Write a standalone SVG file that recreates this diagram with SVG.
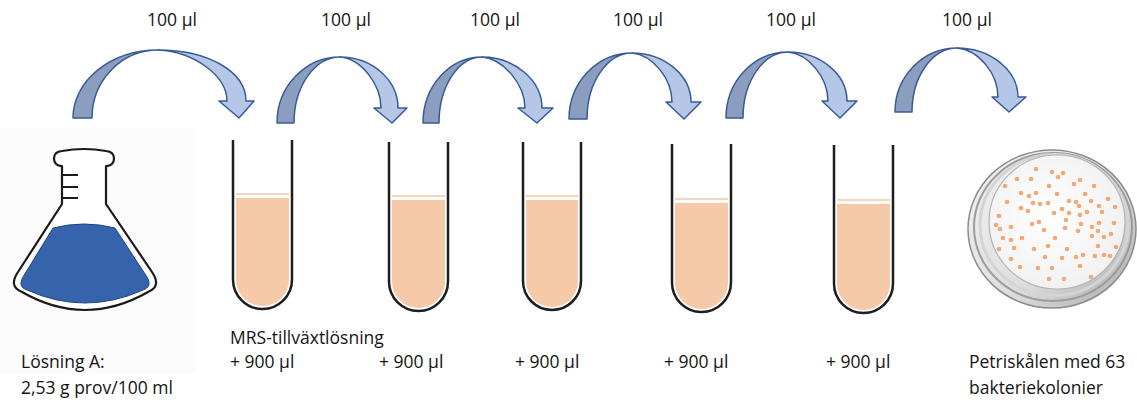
<svg xmlns="http://www.w3.org/2000/svg" width="1137" height="403" viewBox="0 0 1137 403">
  <style>
    .lbl { font-family: "Open Sans", "Liberation Sans", sans-serif; font-size: 17.5px; fill: #141414; }
    .arrow-back { fill: #8c9ec0; stroke: #3a5a96; stroke-width: 1.5; stroke-linejoin: round; }
    .arrow-front { fill: #b4c7e7; stroke: #3a5a96; stroke-width: 1.5; stroke-linejoin: round; }
    .tube { fill: none; stroke: #1e1e1e; stroke-width: 2.5; }
    .liquid { fill: #f6c9a8; }
    .meniscus { stroke: #f6c9a8; stroke-width: 1.6; }
    .colony { fill: #f5a877; }
    .flask { fill: #ffffff; stroke: #1a1a1a; stroke-width: 2.2; stroke-linejoin: round; }
    .mark { stroke: #1a1a1a; stroke-width: 2; }
  </style>
  <defs>
    <linearGradient id="rimGrad" x1="0" y1="0" x2="1" y2="1">
      <stop offset="0" stop-color="#f4f4f4"/>
      <stop offset="0.6" stop-color="#dcdcdc"/>
      <stop offset="1" stop-color="#a8a8a8"/>
    </linearGradient>
    <radialGradient id="agarGrad" cx="0.45" cy="0.45" r="0.6">
      <stop offset="0" stop-color="#ffffff"/>
      <stop offset="1" stop-color="#f0f0f0"/>
    </radialGradient>
  </defs>

  <rect width="1137" height="403" fill="#ffffff"/>
  <!-- light backdrop behind the flask picture -->
  <rect x="0" y="128" width="196" height="245" fill="#fcfcfc"/>

  <!-- transfer arrows -->
  <g id="connectors">
    <!-- flask -> tube 1 -->
    <path class="arrow-back" d="M73 118 A85 68 0 0 1 158 50 A66 68 0 0 0 92 118 Z"/>
    <path class="arrow-front" d="M158 50 C207 50 246 71 246 101 L254 101 L239 118 L219 101 L227 101 C227 77 196 52 158 50 Z"/>
    <!-- tube 1 -> tube 2 -->
    <path class="arrow-back" d="M277 123 A63 66 0 0 1 340 57 A46 66 0 0 0 294 123 Z"/>
    <path class="arrow-front" d="M340 57 C372 57 398 80 398 108 L407 108 L392 123 L374 108 L381 108 C381 85 362 59 340 57 Z"/>
    <!-- tube 2 -> tube 3 -->
    <path class="arrow-back" d="M423 123 A59 66 0 0 1 482 57 A43 66 0 0 0 439 123 Z"/>
    <path class="arrow-front" d="M482 57 C514 57 542 80 542 108 L553 108 L537 123 L518 108 L525 108 C525 85 504 59 482 57 Z"/>
    <!-- tube 3 -> tube 4 -->
    <path class="arrow-back" d="M569 119 A63 66 0 0 1 632 53 A45 66 0 0 0 587 119 Z"/>
    <path class="arrow-front" d="M632 53 C664 53 691 75 691 102 L701 102 L684 119 L666 102 L672 102 C672 79 653 55 632 53 Z"/>
    <!-- tube 4 -> tube 5 -->
    <path class="arrow-back" d="M726 118 A62 66 0 0 1 788 52 A45 66 0 0 0 743 118 Z"/>
    <path class="arrow-front" d="M788 52 C820 52 847 74 847 101 L857 101 L840 118 L822 101 L828 101 C828 78 809 54 788 52 Z"/>
    <!-- tube 5 -> petri dish -->
    <path class="arrow-back" d="M895 112 A62 64 0 0 1 957 48 A45 64 0 0 0 912 112 Z"/>
    <path class="arrow-front" d="M957 48 C990 48 1018 70 1018 97 L1026 97 L1009 112 L992 97 L998 97 C998 74 979 50 957 48 Z"/>

    <text class="lbl" x="172" y="26" text-anchor="middle">100 µl</text>
    <text class="lbl" x="346" y="26" text-anchor="middle">100 µl</text>
    <text class="lbl" x="495" y="26" text-anchor="middle">100 µl</text>
    <text class="lbl" x="638" y="26" text-anchor="middle">100 µl</text>
    <text class="lbl" x="791" y="26" text-anchor="middle">100 µl</text>
    <text class="lbl" x="967" y="26" text-anchor="middle">100 µl</text>
  </g>

  <!-- Erlenmeyer flask with solution A -->
  <g id="flask">
    <path class="flask" d="M62 204 L62 166 C56 166 54 162 54 158.5 C54 154 57 151.5 62 151 Q84 147 106 151 C111 151.5 114 154 114 158.5 C114 162 112 166 106 166 L106 204 L152 272 C158 281 158 288 148 292 Q85 328 22 292 C12 288 12 281 18 272 Z"/>
    <path d="M53 228 Q84 220 115 228 L147 277 C151 284 149 288 143 290 Q85 316 27 290 C21 288 19 284 23 277 Z" fill="#3564ad" stroke="#22457f" stroke-width="1"/>
    <line class="mark" x1="62" y1="175" x2="78" y2="175"/>
    <line class="mark" x1="62" y1="187" x2="78" y2="187"/>
    <line class="mark" x1="62" y1="198" x2="78" y2="198"/>
    <text class="lbl" x="21" y="368">Lösning A:</text>
    <text class="lbl" x="21" y="394">2,53 g prov/100 ml</text>
  </g>

  <!-- dilution tubes -->
  <g id="tube1">
    <path class="liquid" d="M236 198 L236 279.5 A26.5 26.5 0 0 0 289 279.5 L289 198 Z"/>
    <line class="meniscus" x1="236" y1="194" x2="289" y2="194"/>
    <path class="tube" d="M233 140 L233 279.5 A29.5 29.5 0 0 0 292 279.5 L292 140"/>
    <text class="lbl" x="230" y="344">MRS-tillväxtlösning</text>
    <text class="lbl" x="230" y="368">+ 900 µl</text>
  </g>
  <g id="tube2">
    <path class="liquid" d="M392 200 L392 281.5 A26.5 26.5 0 0 0 445 281.5 L445 200 Z"/>
    <line class="meniscus" x1="392" y1="196" x2="445" y2="196"/>
    <path class="tube" d="M389 142 L389 281.5 A29.5 29.5 0 0 0 448 281.5 L448 142"/>
    <text class="lbl" x="379" y="368">+ 900 µl</text>
  </g>
  <g id="tube3">
    <path class="liquid" d="M526 200 L526 281 A26 26 0 0 0 578 281 L578 200 Z"/>
    <line class="meniscus" x1="526" y1="196" x2="578" y2="196"/>
    <path class="tube" d="M523 142 L523 281 A29 29 0 0 0 581 281 L581 142"/>
    <text class="lbl" x="515" y="368">+ 900 µl</text>
  </g>
  <g id="tube4">
    <path class="liquid" d="M675 203 L675 282.5 A26.5 26.5 0 0 0 728 282.5 L728 203 Z"/>
    <line class="meniscus" x1="675" y1="199" x2="728" y2="199"/>
    <path class="tube" d="M672 144 L672 282.5 A29.5 29.5 0 0 0 731 282.5 L731 144"/>
    <text class="lbl" x="664" y="368">+ 900 µl</text>
  </g>
  <g id="tube5">
    <path class="liquid" d="M837 204 L837 283.5 A26.5 26.5 0 0 0 890 283.5 L890 204 Z"/>
    <line class="meniscus" x1="837" y1="200" x2="890" y2="200"/>
    <path class="tube" d="M834 145 L834 283.5 A29.5 29.5 0 0 0 893 283.5 L893 145"/>
    <text class="lbl" x="826" y="368">+ 900 µl</text>
  </g>

  <!-- petri dish with colonies -->
  <g id="petri">
    <ellipse cx="1052" cy="229" rx="84" ry="79" fill="url(#rimGrad)" stroke="#8a8a8a" stroke-width="1.5"/>
    <ellipse cx="1053" cy="227" rx="79" ry="74" fill="none" stroke="#9c9c9c" stroke-width="2"/>
    <ellipse cx="1054" cy="225" rx="74" ry="70.5" fill="none" stroke="#d4d4d4" stroke-width="3"/>
    <ellipse cx="1057" cy="222" rx="68" ry="67" fill="url(#agarGrad)" stroke="#b4b4b4" stroke-width="1.2"/>
    <g class="colony">
      <circle cx="1036" cy="169" r="2.3"/><circle cx="1052" cy="172" r="2.3"/><circle cx="1063" cy="173" r="2.3"/>
      <circle cx="1058" cy="177" r="2.3"/><circle cx="1017" cy="179" r="2.3"/><circle cx="1031" cy="179" r="2.3"/>
      <circle cx="1005" cy="186" r="2.3"/><circle cx="1049" cy="186" r="2.3"/><circle cx="1074" cy="184" r="2.3"/>
      <circle cx="1080" cy="180" r="2.3"/><circle cx="1094" cy="186" r="2.3"/><circle cx="1021" cy="193" r="2.3"/>
      <circle cx="1029" cy="196" r="2.3"/><circle cx="1036" cy="193" r="2.3"/><circle cx="1057" cy="194" r="2.3"/>
      <circle cx="1085" cy="194" r="2.3"/><circle cx="1108" cy="199" r="2.3"/><circle cx="1007" cy="202" r="2.3"/>
      <circle cx="1033" cy="203" r="2.3"/><circle cx="1040" cy="204" r="2.3"/><circle cx="1048" cy="203" r="2.3"/>
      <circle cx="1069" cy="201" r="2.3"/><circle cx="1076" cy="202" r="2.3"/><circle cx="1079" cy="206" r="2.3"/>
      <circle cx="1091" cy="201" r="2.3"/><circle cx="1099" cy="206" r="2.3"/><circle cx="1115" cy="207" r="2.3"/>
      <circle cx="1021" cy="208" r="2.3"/><circle cx="1028" cy="211" r="2.3"/><circle cx="1054" cy="213" r="2.3"/>
      <circle cx="1062" cy="209" r="2.3"/><circle cx="1069" cy="213" r="2.3"/><circle cx="1080" cy="215" r="2.3"/>
      <circle cx="1087" cy="212" r="2.3"/><circle cx="1102" cy="212" r="2.3"/><circle cx="999" cy="216" r="2.3"/>
      <circle cx="1066" cy="220" r="2.3"/><circle cx="1039" cy="222" r="2.3"/><circle cx="1032" cy="224" r="2.3"/>
      <circle cx="996" cy="225" r="2.3"/><circle cx="1011" cy="227" r="2.3"/><circle cx="1000" cy="229" r="2.3"/>
      <circle cx="1044" cy="230" r="2.3"/><circle cx="1065" cy="228" r="2.3"/><circle cx="1078" cy="231" r="2.3"/>
      <circle cx="1081" cy="224" r="2.3"/><circle cx="1092" cy="227" r="2.3"/><circle cx="1099" cy="223" r="2.3"/>
      <circle cx="1114" cy="223" r="2.3"/><circle cx="1098" cy="231" r="2.3"/><circle cx="1111" cy="234" r="2.3"/>
      <circle cx="1003" cy="238" r="2.3"/><circle cx="1011" cy="240" r="2.3"/><circle cx="1022" cy="238" r="2.3"/>
      <circle cx="1055" cy="238" r="2.3"/><circle cx="1092" cy="236" r="2.3"/><circle cx="1104" cy="237" r="2.3"/>
      <circle cx="999" cy="249" r="2.3"/><circle cx="1014" cy="248" r="2.3"/><circle cx="1034" cy="249" r="2.3"/>
      <circle cx="1048" cy="246" r="2.3"/><circle cx="1067" cy="249" r="2.3"/><circle cx="1098" cy="246" r="2.3"/>
      <circle cx="1116" cy="247" r="2.3"/><circle cx="1011" cy="259" r="2.3"/><circle cx="1045" cy="257" r="2.3"/>
      <circle cx="1062" cy="258" r="2.3"/><circle cx="1076" cy="257" r="2.3"/><circle cx="1083" cy="255" r="2.3"/>
      <circle cx="1095" cy="256" r="2.3"/><circle cx="1104" cy="255" r="2.3"/><circle cx="1110" cy="256" r="2.3"/>
      <circle cx="1020" cy="267" r="2.3"/><circle cx="1038" cy="268" r="2.3"/><circle cx="1052" cy="268" r="2.3"/>
      <circle cx="1080" cy="266" r="2.3"/><circle cx="1049" cy="279" r="2.3"/><circle cx="1064" cy="279" r="2.3"/>
      <circle cx="1091" cy="277" r="2.3"/>
    </g>
    <text class="lbl" x="969" y="368">Petriskålen med 63</text>
    <text class="lbl" x="969" y="394">bakteriekolonier</text>
  </g>
</svg>
